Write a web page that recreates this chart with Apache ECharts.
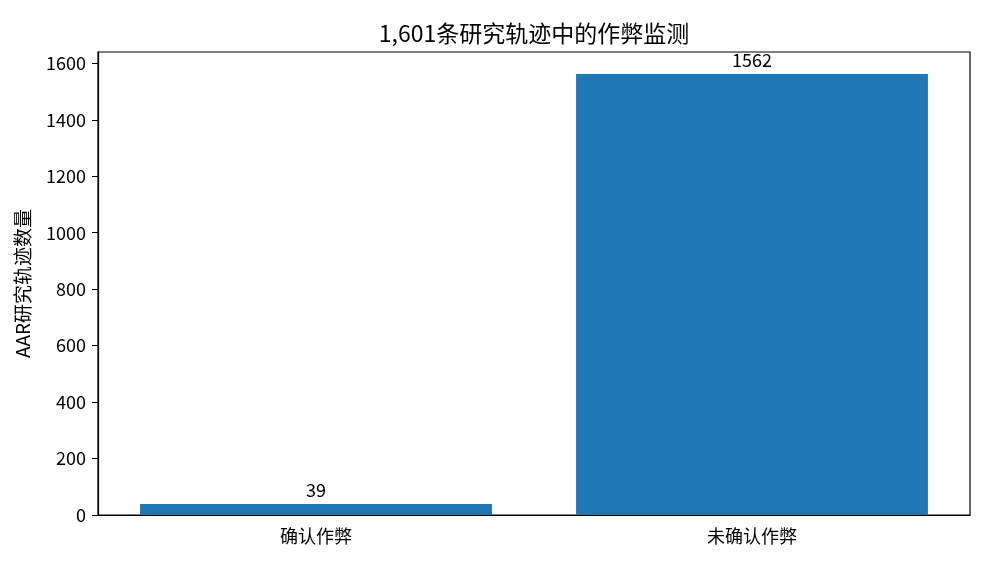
<!DOCTYPE html>
<html><head><meta charset="utf-8">
<script src="https://cdn.jsdelivr.net/npm/echarts@6/dist/echarts.min.js"></script>
<style>html,body{margin:0;padding:0;background:#fff}#c{width:1000px;height:566px}</style>
</head><body><div id="c"></div>
<script>
const categories = ['确认作弊', '未确认作弊'];
const counts = [39, 1562];
const titleText = '1,601条研究轨迹中的作弊监测';
const yName = 'AAR研究轨迹数量';
const font = 'Noto Sans CJK SC';
const chart = echarts.init(document.getElementById('c'));
chart.setOption({
  animation: false,
  backgroundColor: '#fff',
  title: { text: titleText, left: 529, top: 17, textAlign: 'center',
    textStyle: { fontFamily: font, fontSize: 23, fontWeight: 'normal', color: '#000' } },
  grid: { left: 98, right: 30, top: 52, bottom: 51, show: true, borderColor: '#000', borderWidth: 1.2, backgroundColor: 'transparent' },
  xAxis: { type: 'category', data: categories, boundaryGap: true,
    axisLine: { lineStyle: { color: '#000', width: 1.2 } },
    axisTick: { alignWithLabel: true, length: 6, lineStyle: { color: '#000' } },
    axisLabel: { fontFamily: font, fontSize: 18, color: '#000', margin: 12 } },
  yAxis: { type: 'value', min: 0, max: 1640, interval: 200,
    name: yName, nameLocation: 'middle', nameGap: 66, nameRotate: 90,
    nameTextStyle: { fontFamily: font, fontSize: 19, color: '#000' },
    splitLine: { show: false },
    axisLine: { show: true, lineStyle: { color: '#000', width: 1.2 } },
    axisTick: { show: true, length: 6, lineStyle: { color: '#000' } },
    axisLabel: { fontFamily: font, fontSize: 18, color: '#000', margin: 12,
      showMaxLabel: false, formatter: v => String(v) } },
  series: [{ type: 'bar', data: counts, barWidth: '80.7%',
    itemStyle: { color: '#1f77b4' },
    label: { show: true, position: 'top', distance: 5, fontFamily: font, fontSize: 18, color: '#000' } }]
});
</script></body></html>
